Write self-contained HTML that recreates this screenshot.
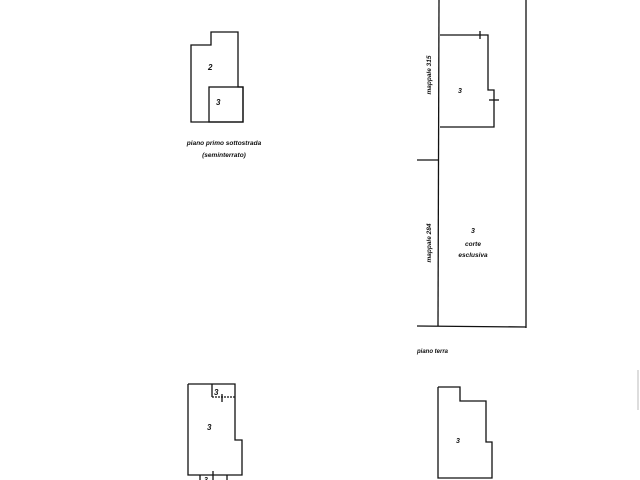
<!DOCTYPE html>
<html><head><style>
body{margin:0;background:#fff;width:640px;height:480px;overflow:hidden}
svg{display:block}
text{font-family:"Liberation Sans",sans-serif;font-style:italic;font-weight:bold;fill:#111}
</style></head><body>
<svg width="640" height="480" viewBox="0 0 640 480" fill="none" stroke="#111" stroke-width="1.3">
<polygon points="191,45 211,45 211,32 238,32 238,87 243,87 243,122 191,122"/>
<rect x="209" y="87" width="34" height="35"/>
<text x="208" y="70" font-size="8" stroke="none">2</text>
<text x="216" y="105" font-size="8" stroke="none">3</text>
<text x="224" y="145" font-size="6.5" stroke="none" text-anchor="middle">piano primo sottostrada</text>
<text x="224" y="157" font-size="6.5" stroke="none" text-anchor="middle">(seminterrato)</text>
<line x1="439" y1="0" x2="438" y2="326"/>
<line x1="526" y1="0" x2="526" y2="328"/>
<line x1="417" y1="326" x2="526" y2="327"/>
<line x1="417" y1="160" x2="439" y2="160"/>
<polyline points="440,35 488,35 488,90 494,90 494,127 440,127"/>
<line x1="480" y1="31" x2="480" y2="39"/>
<line x1="489" y1="100" x2="499" y2="100"/>
<text x="458" y="93" font-size="7" stroke="none">3</text>
<text x="473" y="233" font-size="7" stroke="none" text-anchor="middle">3</text>
<text x="473" y="246" font-size="6.5" stroke="none" text-anchor="middle">corte</text>
<text x="473" y="257" font-size="6.5" stroke="none" text-anchor="middle">esclusiva</text>
<text transform="translate(431,75) rotate(-90)" font-size="6.5" stroke="none" text-anchor="middle">mappale 315</text>
<text transform="translate(431,243) rotate(-90)" font-size="6.5" stroke="none" text-anchor="middle">mappale 284</text>
<text x="417" y="353" font-size="6" stroke="none">piano terra</text>
<polyline points="188,384 235,384 235,440 242,440 242,475 188,475 188,384"/>
<line x1="212" y1="384" x2="212" y2="397"/>
<line x1="212" y1="397" x2="235" y2="397" stroke-dasharray="2,1"/>
<line x1="222" y1="394" x2="222" y2="402"/>
<text x="214" y="395" font-size="8" stroke="none">3</text>
<text x="207" y="430" font-size="8" stroke="none">3</text>
<line x1="200" y1="475" x2="200" y2="480"/>
<line x1="213" y1="471" x2="213" y2="480"/>
<line x1="227" y1="475" x2="227" y2="480"/>
<text x="204" y="482" font-size="7" stroke="none">3</text>
<polyline points="438,387 460,387 460,401 486,401 486,442 492,442 492,478 438,478 438,387"/>
<text x="456" y="443" font-size="7" stroke="none">3</text>
<line x1="638" y1="370" x2="638" y2="410" stroke="#bbb" stroke-width="1"/>
</svg>
</body></html>
